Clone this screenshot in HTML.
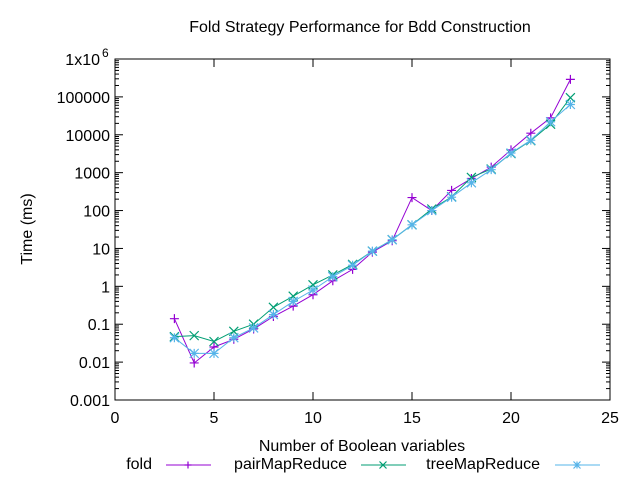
<!DOCTYPE html>
<html><head><meta charset="utf-8"><style>
body{margin:0;background:#fff}
svg{display:block;font-family:"Liberation Sans",sans-serif;font-size:16px}
</style></head><body>
<svg id="chart" width="640" height="480" viewBox="0 0 640 480" xmlns="http://www.w3.org/2000/svg">
<rect width="640" height="480" fill="#fff"/>
<text x="360" y="32" text-anchor="middle">Fold Strategy Performance for Bdd Construction</text>
<text x="362" y="451" text-anchor="middle">Number of Boolean variables</text>
<text transform="translate(32,229) rotate(-90)" text-anchor="middle">Time (ms)</text>
<g id="axes"></g>
<g id="series"></g>
<g id="legend"></g>
</svg>
<script>
const xs = [3,4,5,6,7,8,9,10,11,12,13,14,15,16,17,18,19,20,21,22,23];
const foldVals = [0.14,0.0095,0.025,0.04,0.075,0.16,0.3,0.6,1.4,2.8,8,16,220,100,340,700,1400,4000,11000,28000,290000];
const pairVals = [0.047,0.05,0.035,0.065,0.1,0.28,0.55,1.1,2,3.8,8.5,17,42,110,230,750,1250,3200,7000,19000,95000];
const treeVals = [0.044,0.017,0.017,0.044,0.08,0.18,0.4,0.8,1.8,3.6,8.5,17,42,100,225,540,1200,3300,7200,22000,63000];
const xTicks = [0,5,10,15,20,25];
const yTickExp = [-3,-2,-1,0,1,2,3,4,5,6];
const yTickLabels = ["0.001","0.01","0.1","1","10","100","1000","10000","100000","1x10"];
const seriesNames = ["fold","pairMapReduce","treeMapReduce"];
const seriesColors = ["#9400d3","#009e73","#56b4e9"];

const L=115,R=610,T=59,B=400, X0=0,X1=25, E0=-3,E1=6;
const NS="http://www.w3.org/2000/svg";
const sx=v=>L+(v-X0)/(X1-X0)*(R-L);
const sy=v=>B-(Math.log10(v)-E0)/(E1-E0)*(B-T);
function mk(tag,attrs,parent){const e=document.createElementNS(NS,tag);for(const k in attrs)e.setAttribute(k,attrs[k]);parent.appendChild(e);return e;}
const axes=document.getElementById('axes');
const frame=mk('rect',{x:L,y:T,width:R-L,height:B-T,fill:'none',stroke:'#000','stroke-width':1},axes);


xTicks.forEach(t=>{
  const x=sx(t);
  mk('line',{x1:x,y1:B,x2:x,y2:B-8,stroke:'#000'},axes);
  mk('line',{x1:x,y1:T,x2:x,y2:T+8,stroke:'#000'},axes);
  const tx=mk('text',{x:x,y:B+23,'text-anchor':'middle'},axes);
  tx.textContent=t;
  
  
});
yTickExp.forEach((e,i)=>{
  const y=sy(Math.pow(10,e));
  mk('line',{x1:L,y1:y,x2:L+8,y2:y,stroke:'#000'},axes);
  mk('line',{x1:R,y1:y,x2:R-8,y2:y,stroke:'#000'},axes);
  if(e<E1){for(let m=2;m<10;m++){const yy=sy(m*Math.pow(10,e));mk('line',{x1:L,y1:yy,x2:L+4,y2:yy,stroke:'#000'},axes);mk('line',{x1:R,y1:yy,x2:R-4,y2:yy,stroke:'#000'},axes);}}
  const tx=mk('text',{x:L-5,y:y+6,'text-anchor':'end'},axes);
  tx.textContent=yTickLabels[i];
  
  
  if(e===6){tx.setAttribute('x',L-15);const s=mk('text',{x:L-13,y:y-2,'font-size':'12'},axes);s.textContent='6';
    
    }
});
function marker(kind,x,y,c,g,d){
  d=d||4.5;
  if(kind===0){mk('path',{d:`M${x-d} ${y}H${x+d}M${x} ${y-d}V${y+d}`,stroke:c,'stroke-width':1.2,fill:'none'},g);}
  else if(kind===1){mk('path',{d:`M${x-d} ${y-d}L${x+d} ${y+d}M${x-d} ${y+d}L${x+d} ${y-d}`,stroke:c,'stroke-width':1.2,fill:'none'},g);}
  else{mk('path',{d:`M${x-d} ${y}H${x+d}M${x} ${y-d}V${y+d}M${x-d} ${y-d}L${x+d} ${y+d}M${x-d} ${y+d}L${x+d} ${y-d}`,stroke:c,'stroke-width':1.2,fill:'none'},g);}
}
const sg=document.getElementById('series');
[foldVals,pairVals,treeVals].forEach((vals,si)=>{
  const g=mk('g',{},sg);
  
  
  const pts=xs.map((x,i)=>sx(x).toFixed(1)+','+sy(vals[i]).toFixed(1)).join(' ');
  const pl=mk('polyline',{points:pts,fill:'none',stroke:seriesColors[si],'stroke-width':1},g);
  
  
  xs.forEach((x,i)=>marker(si,sx(x),sy(vals[i]),seriesColors[si],g));
});
const lg=document.getElementById('legend');
const textEnds=[152,347,540], lineStarts=[166,361,555];
seriesNames.forEach((n,i)=>{
  const g=mk('g',{},lg);
  
  
  const t=mk('text',{x:textEnds[i],y:469,'text-anchor':'end'},g);t.textContent=n;
  mk('line',{x1:lineStarts[i],y1:465,x2:lineStarts[i]+45,y2:465,stroke:seriesColors[i]},g);
  marker(i,lineStarts[i]+22,465,seriesColors[i],g,3.5);
});
</script>
</body></html>
